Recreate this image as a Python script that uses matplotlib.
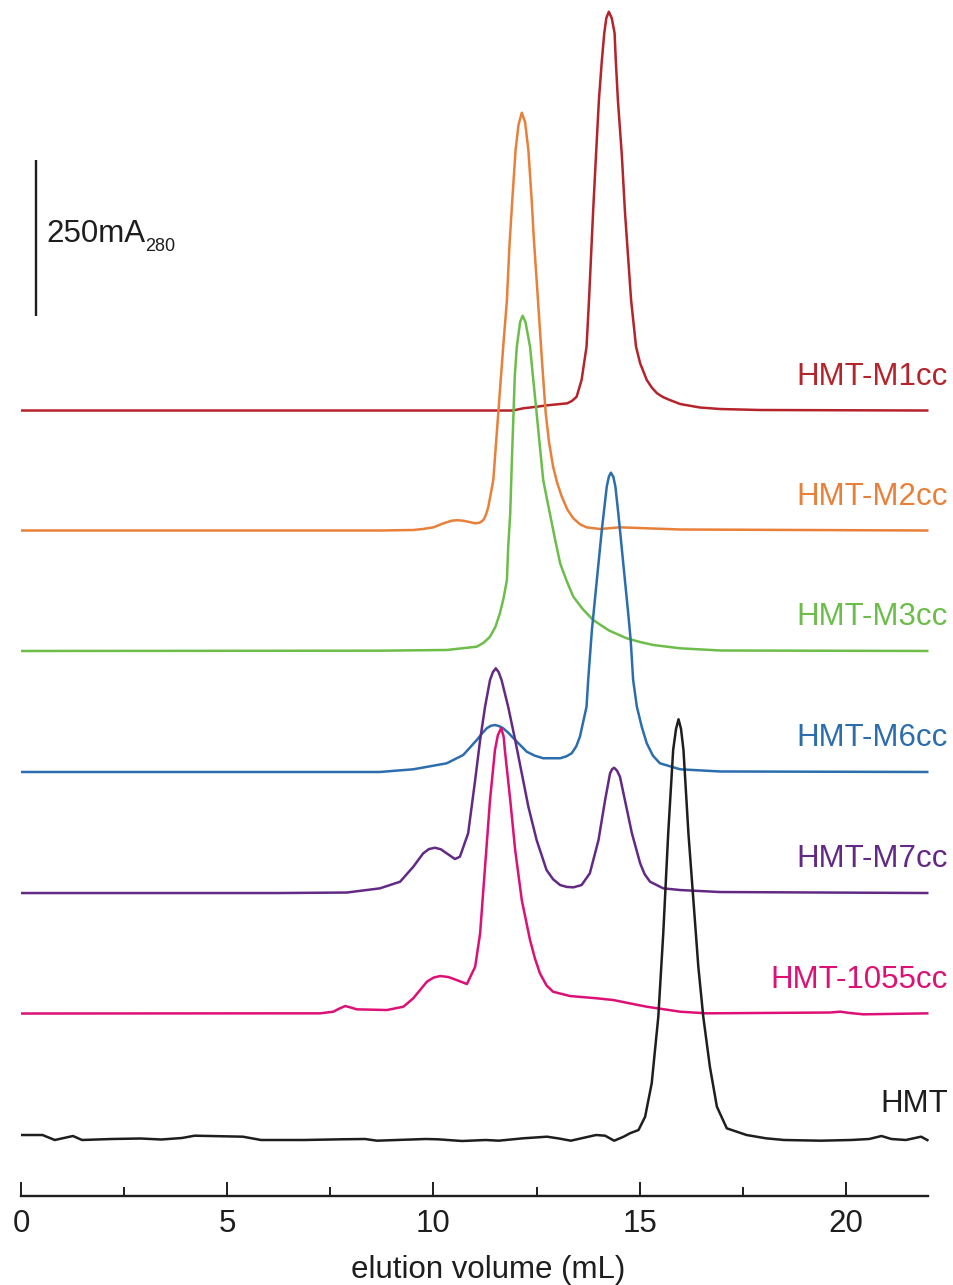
import matplotlib
matplotlib.use("Agg")
import matplotlib.pyplot as plt
from matplotlib.ticker import MultipleLocator

plt.rcParams['font.family'] = ['Liberation Sans', 'DejaVu Sans']

# ---------------- data (elution volume in mL, absorbance in mA280) ----------------
m1_x = [0.0, 11.93, 12.17, 12.51, 12.75, 13.24, 13.36, 13.47, 13.59, 13.71, 13.77, 13.87, 13.94, 14.01,
        14.08, 14.14, 14.19, 14.25, 14.32, 14.39, 14.42, 14.47, 14.565, 14.64, 14.79, 14.91, 15.01, 15.17,
        15.30, 15.42, 15.56, 15.73, 15.98, 16.46, 16.95, 17.92, 22.0]
m1_y = [0, 0, 3.5, 6.1, 8.3, 11.5, 15.5, 22.1, 48.9, 102.2, 177.1, 319.7, 410, 497.6,
        560, 605.0, 629.0, 639.1, 629.0, 605.0, 560, 497.6, 410, 319.7, 177.1, 102.2, 75.6, 48.9,
        36.1, 27.6, 21.6, 16.8, 10.4, 4.8, 2.4, 0.8, 0]

m2_x = [0.0, 8.70, 9.51, 9.75, 10.00, 10.22, 10.44, 10.58, 10.72, 10.88, 11.01, 11.12, 11.21, 11.27,
        11.33, 11.45, 11.57, 11.69, 11.78, 11.84, 11.91, 11.99, 12.06, 12.14, 12.22, 12.30, 12.38, 12.43,
        12.50, 12.64, 12.72, 12.80, 12.90, 13.00, 13.11, 13.25, 13.39, 13.55, 13.71, 14.04, 14.52, 15.98,
        22.0]
m2_y = [0, 0, 0.8, 2.5, 5.1, 11.0, 15.7, 16.5, 15.7, 13.5, 11.5, 12.5, 16.8, 25.0,
        38.1, 80.9, 188.3, 294.6, 369.4, 455, 529.7, 609.8, 649.9, 669.6, 654.7, 609.8, 529.7, 470,
        401.5, 262.0, 188.3, 142, 102.2, 76, 54.2, 33, 19.6, 10, 5.1, 2.4, 5.1, 1.6,
        0]

m3_x = [0.0, 8.70, 10.32, 11.05, 11.22, 11.37, 11.50, 11.61, 11.70, 11.78, 11.81, 11.86, 11.90, 11.94,
        11.97, 12.02, 12.10, 12.16, 12.23, 12.34, 12.42, 12.50, 12.58, 12.66, 12.74, 12.82, 12.95, 13.07,
        13.23, 13.39, 13.62, 13.87, 14.25, 14.68, 15.0, 15.33, 15.98, 16.95, 22.0]
m3_y = [0, 0.5, 1.6, 6.9, 13.5, 22.9, 38.5, 60.4, 85, 113.8, 165, 220.7, 305, 381.4,
        440, 487.7, 527.3, 537.3, 527.3, 487.7, 434, 381.4, 327, 274.0, 247, 220.7, 178, 140.5,
        112, 87.0, 67, 49.7, 33, 20.4, 14.5, 9.6, 4.3, 0.8, 0]

m6_x = [0.0, 8.70, 9.51, 10.32, 10.72, 11.05, 11.18, 11.29, 11.39, 11.49, 11.59, 11.69, 11.81, 11.94,
        12.26, 12.46, 12.66, 13.07, 13.22, 13.35, 13.46, 13.55, 13.71, 13.75, 13.84, 13.96, 14.08, 14.20,
        14.25, 14.30, 14.36, 14.41, 14.48, 14.60, 14.72, 14.78, 14.84, 14.93, 15.05, 15.17, 15.32, 15.49,
        15.98, 16.95, 22.0]
m6_y = [0, 0, 4.3, 13.9, 27.2, 51.3, 62, 70.0, 74, 75.3, 73.5, 70.0, 63, 54.0,
        32.5, 26, 22.0, 22.0, 25, 30.0, 41, 56.6, 104.6, 147.4, 227.6, 307.7, 387.8, 457.2,
        473, 479.7, 473, 457.2, 414.6, 334.5, 254.3, 211.5, 147.4, 104.6, 72, 46.0, 26, 13.9,
        4.3, 0.8, 0]

m7_x = [0.0, 6.28, 7.90, 8.70, 9.19, 9.51, 9.75, 9.89, 10.04, 10.18, 10.32, 10.52, 10.64, 10.84,
        11.01, 11.13, 11.25, 11.37, 11.44, 11.51, 11.58, 11.65, 11.81, 11.98, 12.14, 12.30, 12.50, 12.74,
        12.90, 13.07, 13.23, 13.39, 13.59, 13.79, 14.00, 14.16, 14.28, 14.33, 14.38, 14.45, 14.52, 14.64,
        14.81, 15.01, 15.12, 15.25, 15.57, 15.98, 16.95, 22.0]
m7_y = [0, 0, 0.8, 7.5, 18.1, 42.1, 63.6, 70.5, 72.6, 70, 63.6, 54.5, 58.2, 95.7,
        181.1, 245.2, 298.6, 341.4, 354, 360.1, 354, 341.4, 298.6, 245.2, 191.8, 138.3, 84.9, 36.9,
        22, 12.8, 9.8, 9.1, 12.8, 31.6, 84.9, 149.0, 191.8, 198.5, 200.8, 196, 186.4, 149.0,
        95.7, 47.6, 30, 18.1, 7.5, 4.8, 1.6, 0]

c1055_x = [0.0, 6.28, 7.25, 7.57, 7.72, 7.86, 8.00, 8.14, 8.87, 9.27, 9.51, 9.84, 10.00, 10.16,
           10.36, 10.56, 10.81, 11.01, 11.13, 11.25, 11.37, 11.49, 11.56, 11.64, 11.70, 11.73, 11.86, 11.98,
           12.14, 12.34, 12.46, 12.58, 12.74, 12.90, 13.31, 13.96, 14.36, 14.84, 15.17, 15.98, 16.62, 19.61,
           19.86, 20.10, 20.42, 22.0]
c1055_y = [0, 0.3, 0.3, 2.9, 8.0, 12.0, 9.5, 6.7, 5.6, 10.9, 24.4, 51.0, 57.5, 60.1,
           58.5, 53.7, 47.3, 75.0, 128.5, 235.3, 342.2, 422.3, 446, 457.5, 444, 422.3, 342.2, 262.0,
           181.9, 117.8, 88, 64.4, 45, 34.9, 28.0, 24.4, 21.6, 15.2, 10.9, 2.9, 0.3, 1.6,
           2.9, 0.8, -1.3, 0.3]

hmt_x = [0.0, 0.52, 0.82, 1.26, 1.48, 2.20, 2.90, 3.40, 3.90, 4.21, 5.38, 5.82, 6.86, 7.75,
         8.34, 8.63, 9.81, 10.11, 10.69, 11.27, 11.58, 12.17, 12.75, 13.04, 13.33, 13.94, 14.16, 14.38,
         14.60, 14.76, 14.97, 15.13, 15.29, 15.45, 15.57, 15.69, 15.81, 15.88, 15.94, 16.00, 16.06, 16.18,
         16.30, 16.42, 16.54, 16.70, 16.87, 17.11, 17.59, 18.06, 18.50, 19.39, 20.12, 20.56, 20.86, 21.10,
         21.45, 21.82, 22.0]
hmt_y = [4.0, 4.0, -4.0, 2.4, -4.0, -2.4, -1.6, -3.2, -0.8, 2.9, 1.3, -4.0, -4.0, -2.9,
         -2.4, -5.1, -2.4, -2.9, -5.6, -4.0, -5.1, -1.3, 1.3, -1.6, -5.1, 4.0, 2.9, -5.1,
         1.0, 6.7, 12.0, 33.3, 86.9, 193.6, 327.2, 487.5, 621.0, 655, 670.2, 655, 621.0, 487.5,
         380.6, 273.7, 193.6, 113.5, 49.4, 14.7, 4.0, -1.3, -4.0, -5.1, -4.0, -2.4, 2.4, -2.4,
         -4.0, 1.3, -5.1]

names = ['HMT-M1cc', 'HMT-M2cc', 'HMT-M3cc', 'HMT-M6cc', 'HMT-M7cc', 'HMT-1055cc', 'HMT']
xs = [m1_x, m2_x, m3_x, m6_x, m7_x, c1055_x, hmt_x]
ys = [m1_y, m2_y, m3_y, m6_y, m7_y, c1055_y, hmt_y]
offsets = [1165.1, 972.8, 779.7, 585.8, 391.8, 198.7, 0.0]   # vertical stacking offsets (mA280)
colors = ['#B5232B', '#E8803A', '#6CBD4A', '#2C6DAE', '#622A84', '#DD1075', '#1E1E1E']

xticks_major = [0, 5, 10, 15, 20]
scale_bar_mAU = 250

# ---------------- figure ----------------
fig = plt.figure(figsize=(9.54, 12.85), dpi=100)
ax = fig.add_axes([0.02201, 0.06926, 0.95126, 0.93074])
ax.set_xlim(0, 22)
ax.set_ylim(-93.75, 1823.0)

for x, y, off, c in zip(xs, ys, offsets, colors):
    assert len(x) == len(y)
    ax.plot(x, [v + off for v in y], color=c, lw=1.8, clip_on=False,
            solid_joinstyle='round', solid_capstyle='butt')

for name, off, c in zip(names, offsets, colors):
    ax.text(22.47, off + 41, name, color=c, fontsize=22.5, ha='right', va='baseline',
            clip_on=False)

# scale bar
sb_x = 0.364
sb_y0 = 1316.5
ax.plot([sb_x, sb_x], [sb_y0, sb_y0 + scale_bar_mAU], color='#1E1E1E', lw=1.7,
        solid_capstyle='butt')
t = ax.text(0.606, 1435.6, '250mA', fontsize=22.5, ha='left', va='baseline', color='#1E1E1E')
ax.annotate('280', xy=(1, 0), xycoords=t, xytext=(0.3, -1.5), textcoords='offset points',
            fontsize=13, ha='left', va='baseline', color='#1E1E1E')

# axes styling
for s in ['left', 'right', 'top']:
    ax.spines[s].set_visible(False)
ax.spines['bottom'].set_linewidth(1.7)
ax.spines['bottom'].set_color('#1E1E1E')
ax.set_yticks([])
ax.set_xticks(xticks_major)
ax.set_xticklabels([str(v) for v in xticks_major])
ax.xaxis.set_minor_locator(MultipleLocator(2.5))
ax.tick_params(axis='x', which='major', direction='in', length=10, width=1.4,
               labelsize=22.5, pad=9, color='#1E1E1E', labelcolor='#1E1E1E')
ax.tick_params(axis='x', which='minor', direction='in', length=6.5, width=1.4, color='#1E1E1E')
ax.set_xlabel('elution volume (mL)', fontsize=22.5, color='#1E1E1E')
ax.xaxis.set_label_coords(0.5146, -0.0497)
ax.patch.set_visible(False)

fig.savefig('out.png', dpi=100)
